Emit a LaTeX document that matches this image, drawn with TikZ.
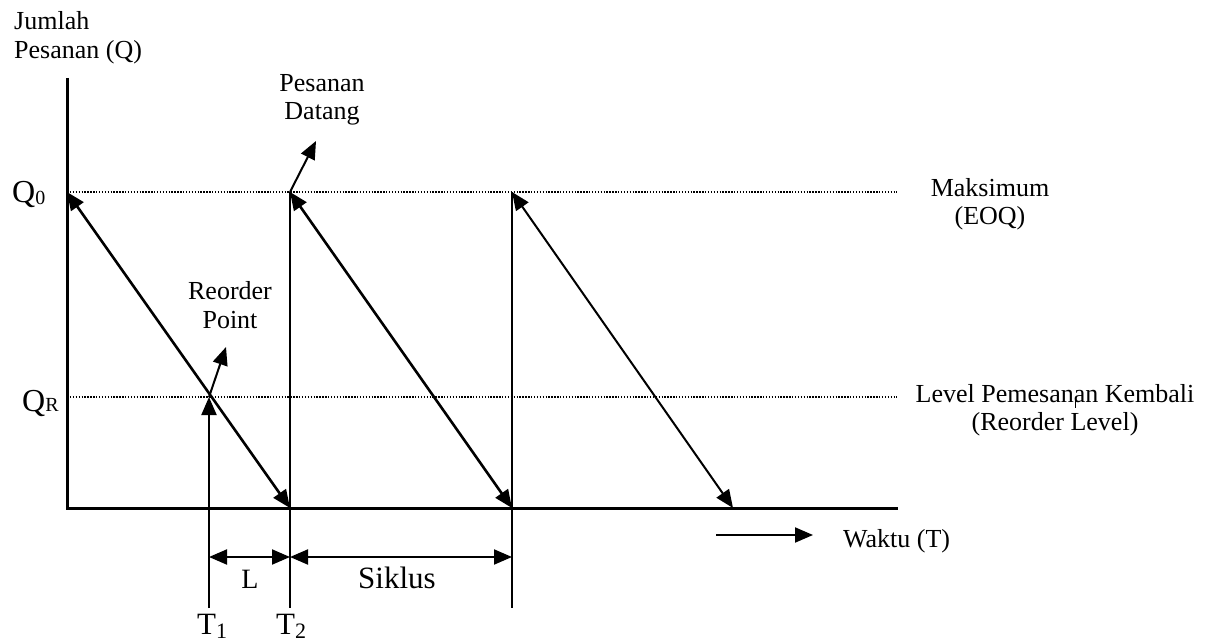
\documentclass[tikz,border=0pt]{standalone}
\usepackage{fontspec}
\setmainfont{Liberation Serif}
\usetikzlibrary{arrows.meta}
\begin{document}
\begin{tikzpicture}[x=1pt,y=-1pt,
  axis/.style={line width=3pt},
  vline/.style={line width=2.6pt},
  thin/.style={line width=2pt},
  tip/.style={-{Triangle[length=18pt,width=15pt]}},
  both/.style={{Triangle[length=18pt,width=15pt]}-{Triangle[length=18pt,width=15pt]}},
  guide/.style={line width=1.4pt, dash pattern=on 1.4pt off 1.5pt},
  lbl/.style={font=\fontsize{26}{28.5}\selectfont, align=center, inner sep=0pt},
]
\useasboundingbox (0,0) rectangle (1206,644);
% coordinates
\coordinate (O) at (67,508);
\coordinate (ytop) at (67,78);
\coordinate (xend) at (898,508);
\coordinate (Q0) at (67,192);
\coordinate (QR) at (67,397);
\coordinate (Q0e) at (897,192);
\coordinate (QRe) at (897,397);
\coordinate (A1) at (290,508);
\coordinate (A2) at (512,508);
\coordinate (A3) at (733,508);
\coordinate (P1) at (290,192);
\coordinate (P2) at (512,192);
\coordinate (R) at (209,397);
\coordinate (T1b) at (209,608);
\coordinate (T2b) at (290,608);
\coordinate (T3b) at (512,608);
\coordinate (L1) at (209,557);
\coordinate (L2) at (290,557);
\coordinate (L3) at (512,557);
\coordinate (rp) at (226,347);
\coordinate (pd) at (316,141);
\coordinate (w1) at (716,535);
\coordinate (w2) at (813,535);
\coordinate (m1) at (1075,398);
\coordinate (m2) at (1075,408);

% guides
\draw[guide] (Q0) -- (Q0e);
\draw[guide] (QR) -- (QRe);
% axes
\draw[axis] (ytop) -- (O) -- (xend);
% verticals
\draw[vline] (P1) -- (T2b);
\draw[vline] (P2) -- (T3b);
\draw[thin,tip] (T1b) -- (R);
% diagonals
\draw[vline,both] (Q0) -- (A1);
\draw[vline,both] (P1) -- (A2);
\draw[thin,both] (P2) -- (A3);
% small arrows
\draw[thin,tip] (R) -- (rp);
\draw[thin,tip] (P1) -- (pd);
% dimensions
\draw[thin,both] (L1) -- (L2);
\draw[thin,both] (L2) -- (L3);
% time arrow
\draw[thin,tip] (w1) -- (w2);
\draw[line width=0.8pt] (m1) -- (m2);

% labels
\node[lbl, anchor=west, align=left] (ylab) at (14,38) {Jumlah\\Pesanan (Q)};
\node[lbl] (pdlab) at (322,100) {Pesanan\\Datang};
\node[lbl] (rplab) at (230,305) {Reorder\\Point};
\node[lbl] (maxlab) at (990,204) {Maksimum\\(EOQ)};
\node[lbl] (rllab) at (1055,410) {Level Pemesanan Kembali\\(Reorder Level)};
\node[lbl, anchor=base west] (wlab) at (843,547) {Waktu (T)};
\node[inner sep=0pt, anchor=base, font=\fontsize{28}{28}\selectfont] (Llab) at (250,588) {L};
\node[inner sep=0pt, anchor=base, font=\fontsize{31}{31}\selectfont] (slab) at (397,588) {Siklus};
\node[inner sep=0pt, anchor=base west] (q0lab) at (12,203) {\fontsize{32}{32}\selectfont Q\fontsize{20}{20}\selectfont\raisebox{-2pt}{0}};
\node[inner sep=0pt, anchor=base west] (qrlab) at (22,411) {\fontsize{32}{32}\selectfont Q\fontsize{20}{20}\selectfont R};
\node[inner sep=0pt, anchor=base west] (t1lab) at (197,634) {\fontsize{31}{31}\selectfont T\fontsize{22}{22}\selectfont\raisebox{-4.5pt}{1}};
\node[inner sep=0pt, anchor=base west] (t2lab) at (276,634) {\fontsize{31}{31}\selectfont T\fontsize{22}{22}\selectfont\raisebox{-4.5pt}{2}};
\end{tikzpicture}
\end{document}
